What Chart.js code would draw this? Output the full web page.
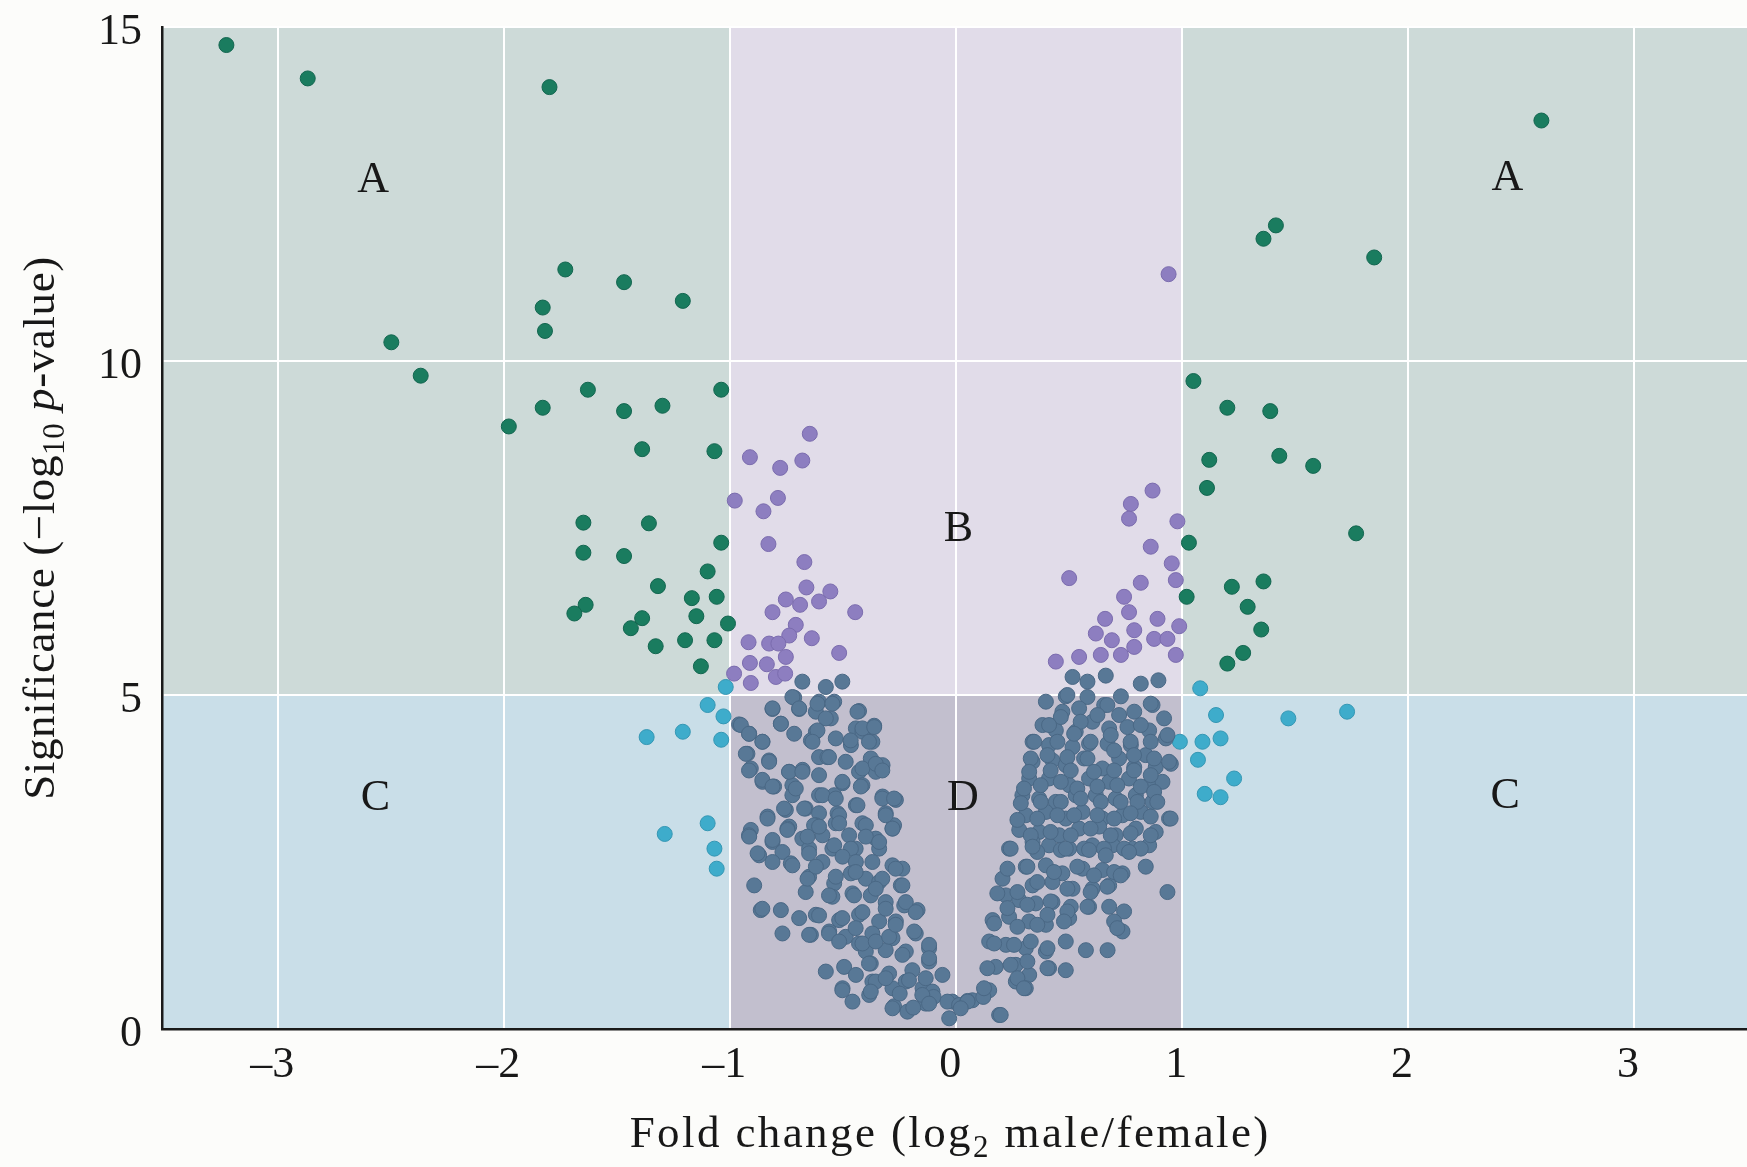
<!DOCTYPE html>
<html>
<head>
<meta charset="utf-8">
<script src="https://cdn.jsdelivr.net/npm/chart.js@4.4.0/dist/chart.umd.min.js"></script>
<style>
  html, body { margin: 0; padding: 0; background: #fcfcfa; }
  #wrap { width: 1747px; height: 1167px; position: relative; }
</style>
</head>
<body>
<div id="wrap"><canvas id="volcano" width="1747" height="1167"></canvas></div>
<script>
// Axis ticks and thresholds
const xTickValues = [-3, -2, -1, 0, 1, 2, 3];
const yTickValues = [0, 5, 10, 15];
const foldCut = 1;      // |log2 fold change| boundary
const sigCut = 5;       // -log10 p-value boundary

// Region letters and where they sit (data units)
const regionNames = ['A', 'A', 'B', 'C', 'C', 'D'];
const regionFold  = [-2.58, 2.44, 0.01, -2.57, 2.43, 0.03];
const regionSig   = [12.7, 12.73, 7.48, 3.45, 3.48, 3.45];

// Group A: large fold change, highly significant  [fold, significance]
const groupA = [
  [-3.23,14.73],[-2.87,14.23],[-1.80,14.10],[-1.73,11.37],[-1.47,11.18],[-1.83,10.80],
  [-1.21,10.90],[-1.82,10.45],[-2.50,10.28],[-2.37,9.78],[-1.63,9.57],[-1.04,9.57],
  [-1.83,9.30],[-1.47,9.25],[-1.30,9.33],[-1.98,9.02],[-1.39,8.68],[-1.07,8.65],
  [-1.65,7.58],[-1.36,7.57],[-1.04,7.28],[-1.65,7.13],[-1.47,7.08],[-1.10,6.85],
  [-1.32,6.63],[-1.17,6.45],[-1.06,6.47],[-1.64,6.35],[-1.69,6.22],[-1.39,6.15],
  [-1.15,6.18],[-1.01,6.07],[-1.44,6.00],[-1.20,5.82],[-1.33,5.73],[-1.07,5.82],
  [-1.13,5.43],
  [2.59,13.60],[1.415,12.03],[1.36,11.83],[1.85,11.55],[1.05,9.70],[1.20,9.30],
  [1.39,9.25],[1.12,8.52],[1.43,8.58],[1.58,8.43],[1.11,8.10],[1.77,7.42],
  [1.03,7.28],[1.22,6.62],[1.36,6.70],[1.02,6.47],[1.29,6.32],[1.35,5.98],
  [1.27,5.63],[1.20,5.47]
];

// Group B: small fold change, highly significant
const groupB = [
  [-0.648,8.91],[-0.913,8.56],[-0.681,8.51],[-0.779,8.40],[-0.980,7.91],[-0.789,7.95],
  [-0.853,7.75],[-0.831,7.26],[-0.672,6.99],[-0.663,6.61],[-0.557,6.55],[-0.754,6.43],
  [-0.691,6.35],[-0.607,6.40],[-0.447,6.24],[-0.813,6.24],[-0.710,6.05],[-0.739,5.89],
  [-0.919,5.79],[-0.828,5.77],[-0.787,5.77],[-0.639,5.85],[-0.518,5.63],[-0.913,5.48],
  [-0.838,5.46],[-0.754,5.57],[-0.983,5.32],[-0.909,5.18],[-0.798,5.27],[-0.757,5.32],
  [0.94,11.30],
  [0.869,8.06],[0.773,7.86],[0.765,7.64],[0.979,7.60],[0.861,7.22],[0.954,6.97],
  [0.500,6.75],[0.817,6.68],[0.972,6.72],[0.743,6.47],[0.765,6.24],[0.659,6.14],
  [0.891,6.14],[0.618,5.92],[0.689,5.82],[0.788,5.97],[0.876,5.84],[0.935,5.84],
  [0.987,6.03],[0.640,5.60],[0.729,5.60],[0.788,5.72],[0.544,5.57],[0.441,5.50],
  [0.972,5.60]
];

// Group C: large fold change, less significant
const groupC = [
  [-1.02,5.12],[-1.10,4.85],[-1.03,4.68],[-1.21,4.45],[-1.04,4.33],[-1.37,4.37],
  [-1.29,2.92],[-1.10,3.08],[-1.07,2.70],[-1.06,2.40],
  [1.08,5.10],[1.15,4.70],[1.47,4.65],[1.73,4.75],[0.99,4.30],[1.09,4.30],
  [1.17,4.35],[1.07,4.03],[1.10,3.52],[1.17,3.47],[1.23,3.75]
];

// Group D: small fold change, less significant (left arm, then right arm)
const groupD = [
  [-0.681,5.20],[-0.577,5.12],[-0.504,5.20],
  [-0.717,4.96],[-0.607,4.90],[-0.540,4.90],[-0.813,4.79],[-0.695,4.79],[-0.621,4.75],
  [-0.430,4.76],[-0.555,4.65],[-0.363,4.54],[-0.444,4.50],[-0.961,4.56],[-0.916,4.42],
  [-0.776,4.57],[-0.717,4.42],[-0.621,4.45],[-0.643,4.32],[-0.533,4.35],[-0.466,4.25],
  [-0.857,4.30],[-0.415,4.45],[-0.371,4.30],[-0.924,4.12],[-0.828,4.02],[-0.607,4.07],
  [-0.570,4.07],[-0.489,4.00],[-0.378,4.05],[-0.326,3.95],[-0.909,3.90],[-0.739,3.85],
  [-0.680,3.88],[-0.607,3.80],[-0.430,3.85],[-0.356,3.85],[-0.857,3.70],[-0.806,3.63],
  [-0.725,3.65],[-0.503,3.68],[-0.415,3.65],[-0.607,3.50],[-0.540,3.50],[-0.725,3.50],
  [-0.326,3.48],[-0.267,3.43],[-0.444,3.35],[-0.835,3.18],[-0.754,3.28],[-0.666,3.30],
  [-0.607,3.23],[-0.525,3.23],[-0.312,3.23],[-0.275,3.05],[-0.739,3.03],[-0.621,3.05],
  [-0.533,3.08],[-0.415,3.08],[-0.909,2.98],
  [-0.725,4.97],[-0.695,4.80],[-0.614,4.87],[-0.548,4.87],[-0.577,4.65],[-0.437,4.75],
  [-0.813,4.80],[-0.776,4.57],[-0.953,4.55],[-0.917,4.42],[-0.614,4.47],[-0.467,4.32],
  [-0.415,4.50],[-0.363,4.52],[-0.858,4.30],[-0.931,4.12],[-0.828,4.00],[-0.917,3.87],
  [-0.636,4.30],[-0.563,4.07],[-0.386,4.30],[-0.415,3.90],[-0.356,3.97],[-0.327,3.87],
  [-0.740,3.85],[-0.681,3.85],[-0.504,3.70],[-0.422,3.63],[-0.858,3.73],[-0.813,3.63],
  [-0.710,3.60],[-0.592,3.50],[-0.533,3.45],[-0.437,3.35],[-0.327,3.45],[-0.275,3.45],
  [-0.312,3.20],[-0.762,3.30],[-0.673,3.30],[-0.835,3.15],[-0.518,3.20],[-0.747,3.00],
  [-0.629,3.05],[-0.518,3.08],[-0.400,3.05],[-0.282,3.00],[-0.917,2.90],[-0.813,2.80],
  [-0.681,2.85],[-0.592,2.90],[-0.474,2.90],[-0.356,2.85],[-0.872,2.60],[-0.769,2.65],
  [-0.651,2.70],[-0.548,2.70],[-0.445,2.70],[-0.341,2.70],
  [-0.916,2.88],[-0.813,2.83],[-0.747,2.98],[-0.658,2.88],[-0.607,3.03],[-0.540,2.75],
  [-0.466,2.70],[-0.400,2.88],[-0.341,2.80],[-0.282,3.00],[-0.879,2.63],[-0.813,2.50],
  [-0.732,2.48],[-0.651,2.63],[-0.592,2.50],[-0.503,2.58],[-0.444,2.50],[-0.371,2.50],
  [-0.282,2.45],[-0.238,2.40],[-0.894,2.15],[-0.651,2.28],[-0.540,2.18],[-0.466,2.33],
  [-0.400,2.25],[-0.341,2.20],[-0.245,2.15],[-0.865,1.78],[-0.776,1.78],[-0.666,2.05],
  [-0.548,1.98],[-0.459,2.03],[-0.378,2.00],[-0.312,1.90],[-0.230,1.85],[-0.171,1.78],
  [-0.695,1.66],[-0.621,1.71],[-0.518,1.63],[-0.430,1.71],[-0.341,1.61],[-0.267,1.61],
  [-0.769,1.43],[-0.643,1.41],[-0.562,1.46],[-0.489,1.38],[-0.430,1.28],[-0.371,1.43],
  [-0.282,1.36],[-0.179,1.43],[-0.120,1.21],[-0.223,1.16],[-0.312,1.18],[-0.400,1.16],
  [-0.577,0.86],[-0.496,0.93],[-0.444,0.81],[-0.378,0.98],[-0.297,0.83],[-0.194,0.88],
  [-0.120,1.01],[-0.061,0.81],[-0.503,0.61],[-0.459,0.41],[-0.371,0.71],[-0.282,0.61],
  [-0.223,0.71],[-0.149,0.61],[-0.105,0.56],[-0.275,0.34],[-0.216,0.26],[-0.135,0.38],
  [-0.031,0.16],[-0.017,0.41],[-0.385,0.51],[-0.19,0.32],[-0.10,0.48],[-0.25,0.53],
  [-0.725,2.45],[-0.621,2.43],[-0.658,2.25],[-0.533,2.28],[-0.445,2.35],[-0.327,2.25],
  [-0.268,2.40],[-0.858,1.80],[-0.563,2.00],[-0.452,2.00],[-0.356,2.10],[-0.238,2.15],
  [-0.607,1.70],[-0.504,1.66],[-0.415,1.75],[-0.312,1.80],[-0.223,1.90],[-0.179,1.75],
  [-0.651,1.41],[-0.563,1.43],[-0.518,1.31],[-0.445,1.51],[-0.415,1.28],[-0.356,1.31],
  [-0.297,1.38],[-0.268,1.56],[-0.186,1.46],[-0.120,1.26],[-0.238,1.11],[-0.120,1.06],
  [-0.386,0.98],[-0.356,0.71],[-0.312,0.76],[-0.209,0.73],[-0.135,0.76],[-0.504,0.58],
  [-0.378,0.56],[-0.282,0.31],[-0.150,0.51],[-0.120,0.38],[-0.039,0.41],
  [0.515,5.27],[0.581,5.20],[0.662,5.29],[0.817,5.17],[0.895,5.22],
  [0.397,4.90],[0.485,4.98],[0.581,4.97],[0.729,4.98],[0.470,4.75],[0.544,4.80],
  [0.655,4.85],[0.721,4.70],[0.788,4.75],[0.869,4.85],[0.920,4.65],[0.382,4.55],
  [0.441,4.47],[0.529,4.45],[0.603,4.60],[0.677,4.50],[0.758,4.52],[0.854,4.47],
  [0.928,4.35],[0.338,4.30],[0.411,4.25],[0.515,4.22],[0.588,4.27],[0.670,4.27],
  [0.773,4.25],[0.839,4.10],[0.338,4.00],[0.426,4.02],[0.485,3.95],[0.566,4.05],
  [0.647,3.90],[0.721,4.05],[0.788,3.92],[0.883,3.92],[0.950,3.97],[0.323,3.75],
  [0.411,3.75],[0.500,3.65],[0.588,3.75],[0.677,3.70],[0.765,3.75],[0.854,3.65],
  [0.913,3.70],[0.293,3.50],[0.367,3.45],[0.441,3.40],[0.529,3.50],[0.618,3.50],
  [0.706,3.45],[0.795,3.50],[0.869,3.40],[0.308,3.20],[0.397,3.25],[0.485,3.15],
  [0.559,3.25],[0.647,3.15],[0.736,3.20],[0.817,3.25],[0.942,3.15],[0.279,2.98],
  [0.367,2.95],[0.456,2.90],[0.544,3.00],[0.633,3.03],[0.706,2.90],[0.795,3.00],
  [0.883,2.95],[0.234,2.70],[0.338,2.80],[0.411,2.75],[0.500,2.70],[0.603,2.75],
  [0.692,2.75],[0.780,2.70],[0.854,2.75],
  [0.492,5.00],[0.669,4.85],[0.861,4.87],[0.463,4.67],[0.551,4.60],[0.625,4.70],
  [0.817,4.55],[0.411,4.55],[0.345,4.30],[0.448,4.30],[0.522,4.42],[0.595,4.30],
  [0.684,4.40],[0.772,4.30],[0.861,4.30],[0.935,4.40],[0.330,4.05],[0.404,4.10],
  [0.492,4.07],[0.581,4.05],[0.699,4.17],[0.787,4.10],[0.876,4.05],[0.942,4.00],
  [0.323,3.85],[0.418,3.87],[0.507,3.87],[0.610,3.85],[0.699,3.87],[0.787,3.87],
  [0.861,3.80],[0.300,3.60],[0.374,3.65],[0.463,3.70],[0.536,3.60],[0.625,3.63],
  [0.713,3.65],[0.817,3.63],[0.876,3.55],[0.286,3.38],[0.374,3.40],[0.463,3.40],
  [0.551,3.45],[0.640,3.40],[0.728,3.40],[0.802,3.40],[0.890,3.40],[0.271,3.13],
  [0.359,3.15],[0.448,3.20],[0.522,3.20],[0.625,3.20],[0.699,3.15],[0.772,3.23],
  [0.861,3.18],[0.949,3.15],[0.241,2.70],[0.330,2.90],[0.418,2.95],[0.507,2.90],
  [0.595,3.00],[0.684,2.90],[0.772,2.93],[0.861,2.90],[0.359,2.65],[0.463,2.68],
  [0.566,2.70],[0.654,2.70],[0.743,2.70],[0.817,2.70],
  [0.338,2.73],[0.485,2.70],[0.588,2.68],[0.662,2.60],[0.765,2.65],[0.308,2.43],
  [0.397,2.45],[0.470,2.33],[0.559,2.40],[0.647,2.38],[0.736,2.33],[0.839,2.43],
  [0.205,2.25],[0.338,2.15],[0.426,2.20],[0.515,2.10],[0.603,2.10],[0.677,2.15],
  [0.220,2.00],[0.279,1.93],[0.352,1.88],[0.426,1.90],[0.507,1.83],[0.588,1.83],
  [0.677,1.83],[0.743,1.76],[0.935,2.05],[0.161,1.63],[0.234,1.68],[0.323,1.61],
  [0.397,1.56],[0.500,1.66],[0.699,1.61],[0.736,1.46],[0.146,1.31],[0.220,1.26],
  [0.308,1.21],[0.397,1.16],[0.485,1.31],[0.574,1.18],[0.670,1.18],[0.175,0.93],
  [0.264,0.96],[0.323,0.81],[0.411,0.91],[0.485,0.88],[0.308,0.61],[0.146,0.58],
  [0.072,0.43],[0.013,0.36],[0.190,0.21],[0.264,0.71],[0.05,0.42],[0.12,0.48],
  [0.227,2.40],[0.315,2.43],[0.433,2.35],[0.536,2.43],[0.610,2.30],[0.699,2.35],
  [0.728,2.30],[0.182,2.03],[0.271,2.05],[0.359,2.20],[0.418,1.91],[0.492,2.10],
  [0.595,2.05],[0.669,2.13],[0.227,1.81],[0.315,1.86],[0.404,1.71],[0.492,1.76],
  [0.581,1.83],[0.168,1.58],[0.271,1.53],[0.359,1.56],[0.477,1.61],[0.713,1.51],
  [0.168,1.28],[0.256,1.26],[0.330,1.31],[0.404,1.21],[0.138,0.91],[0.241,0.96],
  [0.315,1.01],[0.404,0.91],[0.271,0.76],[0.300,0.61],[0.123,0.61],[0.050,0.41],
  [0.020,0.31],[0.197,0.21]
];

const toPoints = arr => arr.map(p => ({ x: p[0], y: p[1] }));

const SERIF = '"Liberation Serif", "Times New Roman", serif';
const INK = '#181818';

// Shaded quadrants behind the points
const quadrantShading = {
  id: 'quadrantShading',
  beforeDraw(chart) {
    const { ctx, chartArea: a, scales: { x, y } } = chart;
    const xl = x.getPixelForValue(-foldCut);
    const xr = x.getPixelForValue(foldCut);
    const ym = y.getPixelForValue(sigCut);
    ctx.save();
    ctx.fillStyle = '#cddad8';                       // A
    ctx.fillRect(a.left, a.top, xl - a.left, ym - a.top);
    ctx.fillRect(xr, a.top, a.right - xr, ym - a.top);
    ctx.fillStyle = '#e1dce9';                       // B
    ctx.fillRect(xl, a.top, xr - xl, ym - a.top);
    ctx.fillStyle = '#c9dee8';                       // C
    ctx.fillRect(a.left, ym, xl - a.left, a.bottom - ym);
    ctx.fillRect(xr, ym, a.right - xr, a.bottom - ym);
    ctx.fillStyle = '#c2bfce';                       // D
    ctx.fillRect(xl, ym, xr - xl, a.bottom - ym);
    ctx.restore();
  }
};

// Draws a run of text pieces (plain, subscript, italic) centred on a point
function drawRich(ctx, pieces, cx, cy, size, spacing) {
  const fontFor = p => (p.italic ? 'italic ' : '') + (p.sub ? Math.round(size * 0.68) : size) + 'px ' + SERIF;
  ctx.letterSpacing = spacing + 'px';
  let total = 0;
  const widths = pieces.map(p => { ctx.font = fontFor(p); const w = ctx.measureText(p.t).width; total += w; return w; });
  let xPos = cx - total / 2;
  ctx.textAlign = 'left';
  ctx.textBaseline = 'alphabetic';
  pieces.forEach((p, i) => {
    ctx.font = fontFor(p);
    ctx.fillText(p.t, xPos, cy + (p.sub ? size * 0.22 : 0));
    xPos += widths[i];
  });
  ctx.letterSpacing = '0px';
}

// Axis titles and quadrant letters
const annotations = {
  id: 'annotations',
  afterDraw(chart) {
    const { ctx, chartArea: a, scales: { x, y } } = chart;
    ctx.save();
    ctx.fillStyle = INK;
    ctx.font = '44px ' + SERIF;
    ctx.textAlign = 'center';
    ctx.textBaseline = 'middle';
    regionNames.forEach((name, i) => {
      ctx.fillText(name, x.getPixelForValue(regionFold[i]), y.getPixelForValue(regionSig[i]));
    });

    drawRich(ctx, [
      { t: 'Fold change (log' }, { t: '2', sub: true }, { t: ' male/female)' }
    ], x.getPixelForValue(0) - 6, 1147, 45, 2.4);

    ctx.translate(39, (a.top + a.bottom) / 2);
    ctx.rotate(-Math.PI / 2);
    drawRich(ctx, [
      { t: 'Significance (\u2212log' }, { t: '10', sub: true }, { t: ' ' },
      { t: 'p', italic: true }, { t: '-value)' }
    ], 0, 15, 45, 0.6);
    ctx.restore();
  }
};

const pointStyle = (fill, edge) => ({
  pointRadius: 7.5, pointBackgroundColor: fill, pointBorderColor: edge,
  pointBorderWidth: 1, showLine: false
});

new Chart(document.getElementById('volcano'), {
  type: 'scatter',
  data: {
    datasets: [
      { label: 'D', data: toPoints(groupD), ...pointStyle('#587896', '#4a6885') },
      { label: 'B', data: toPoints(groupB), ...pointStyle('#8d7ec0', '#7b6cae') },
      { label: 'C', data: toPoints(groupC), ...pointStyle('#3eaccb', '#3597b4') },
      { label: 'A', data: toPoints(groupA), ...pointStyle('#1a7c5f', '#136650') }
    ]
  },
  options: {
    responsive: false,
    devicePixelRatio: 1,
    animation: false,
    events: [],
    layout: { autoPadding: false, padding: { top: 27, right: 0, left: 0, bottom: 0 } },
    plugins: { legend: { display: false }, tooltip: { enabled: false } },
    scales: {
      x: {
        type: 'linear', min: -3.515, max: 3.5,
        afterBuildTicks: s => { s.ticks = xTickValues.map(v => ({ value: v })); },
        afterFit: s => { s.height = 138; s.paddingLeft = 0; s.paddingRight = 0; },
        grid: { color: '#ffffff', lineWidth: 2, drawTicks: false },
        border: { display: true, color: '#1a1a1a', width: 2.5 },
        ticks: {
          padding: 10, labelOffset: -6, color: INK, font: { family: SERIF, size: 44 },
          maxRotation: 0, autoSkip: false,
          callback: v => (v < 0 ? '\u2013' + Math.abs(v) : String(v))
        }
      },
      y: {
        type: 'linear', min: 0, max: 15,
        afterBuildTicks: s => { s.ticks = yTickValues.map(v => ({ value: v })); },
        afterFit: s => { s.width = 162; s.paddingTop = 0; s.paddingBottom = 0; },
        grid: { color: '#ffffff', lineWidth: 2, drawTicks: false },
        border: { display: true, color: '#1a1a1a', width: 2.5 },
        ticks: {
          padding: 20, labelOffset: 5, color: INK, font: { family: SERIF, size: 44 },
          callback: v => String(v)
        }
      }
    }
  },
  plugins: [quadrantShading, annotations]
});
</script>
</body>
</html>
